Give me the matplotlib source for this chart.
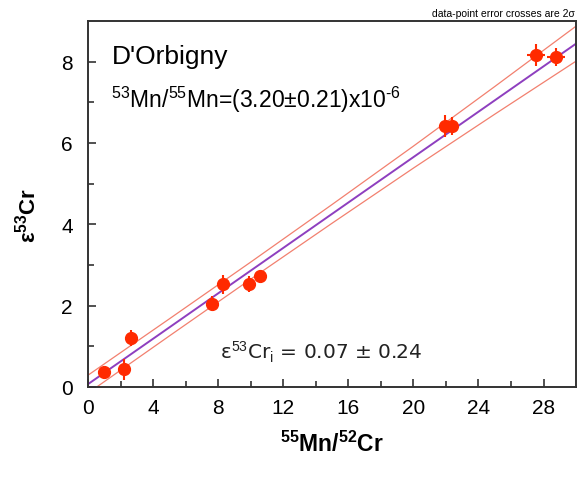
import numpy as np
import matplotlib.pyplot as plt

plt.rcParams['font.family'] = ['Liberation Sans', 'DejaVu Sans']
plt.rcParams['mathtext.fontset'] = 'custom'
plt.rcParams['mathtext.rm'] = 'Liberation Sans'
plt.rcParams['mathtext.bf'] = 'Liberation Sans:bold'

# data (55Mn/52Cr vs e53Cr, 2 sigma errors)
mn_cr = [0.98, 2.2, 2.62, 7.63, 8.3, 9.9, 10.6, 21.96, 22.35, 27.55, 28.77]
eps_cr = [0.37, 0.44, 1.20, 2.05, 2.52, 2.54, 2.74, 6.41, 6.41, 8.17, 8.12]
eps_err = [0.08, 0.26, 0.20, 0.19, 0.24, 0.20, 0.14, 0.27, 0.22, 0.27, 0.22]
mn_err = [0.1, 0.1, 0.1, 0.1, 0.1, 0.1, 0.1, 0.35, 0.35, 0.55, 0.53]

# isochron: intercept and slope
intercept = 0.07
slope = 0.279

# error envelope half width read at a few x positions
env_x = [0, 5, 10, 15, 20, 25, 30]
env_half = [0.22, 0.21, 0.21, 0.23, 0.27, 0.34, 0.43]

fig = plt.figure(figsize=(5.79, 4.85), dpi=100)
ax = fig.add_axes([0.152, 0.2, 0.843, 0.755])

# fit line and envelope
line_x = np.array(env_x, dtype=float)
line_y = intercept + slope * line_x
ax.plot(line_x, line_y, color='#8e3fbf', lw=1.4, zorder=2)
ax.plot(line_x, line_y + np.array(env_half), color='#f2806f', lw=0.9, zorder=2)
ax.plot(line_x, line_y - np.array(env_half), color='#f2806f', lw=0.9, zorder=2)

# data points with 2 sigma crosses
ax.errorbar(mn_cr, eps_cr, yerr=eps_err, xerr=mn_err, fmt='o', color='#ff2a00',
            ms=8.5, elinewidth=1.5, capsize=0, zorder=3)

ax.set_xlim(0, 30)
ax.set_ylim(0, 9)
ax.set_xticks(np.arange(0, 29, 4))
ax.set_xticks(np.arange(2, 30, 4), minor=True)
ax.set_yticks(np.arange(0, 9, 2))
ax.set_yticks(np.arange(1, 9, 2), minor=True)
ax.tick_params(which='both', direction='in', labelsize=15, color='#333333', width=1.2)
ax.tick_params(which='major', length=6)
ax.tick_params(which='minor', length=4)
ax.tick_params(axis='x', pad=8)
ax.tick_params(axis='y', pad=11)
for sp in ax.spines.values():
    sp.set_color('#333333')
    sp.set_linewidth(1.4)

ax.set_xlabel(r'$^{\mathbf{55}}$Mn/$^{\mathbf{52}}$Cr', fontsize=16.5, fontweight='bold')
ax.xaxis.set_label_coords(0.5, -0.118)
ax.set_ylabel(r'ε$^{\mathbf{53}}$Cr', fontsize=16, fontweight='bold')
ax.yaxis.set_label_coords(-0.097, 0.47)

ax.text(0.048, 0.904, "D'Orbigny", transform=ax.transAxes, fontsize=19, va='center')
ax.text(0.048, 0.787, '$^{53}$Mn/$^{55}$Mn=(3.20±0.21)x10$^{\u2010 6}$', transform=ax.transAxes,
        fontsize=16.5, va='center')
ax.text(0.27, 0.098, r'ε$^{53}$Cr$_{\rm i}$ = 0.07 ± 0.24', transform=ax.transAxes,
        fontsize=14.5, va='center', family=['DejaVu Sans'], color='#222222')

fig.text(0.993, 0.972, 'data-point error crosses are 2σ', ha='right', va='center', fontsize=7.5)

fig.savefig('out.png', dpi=100)
